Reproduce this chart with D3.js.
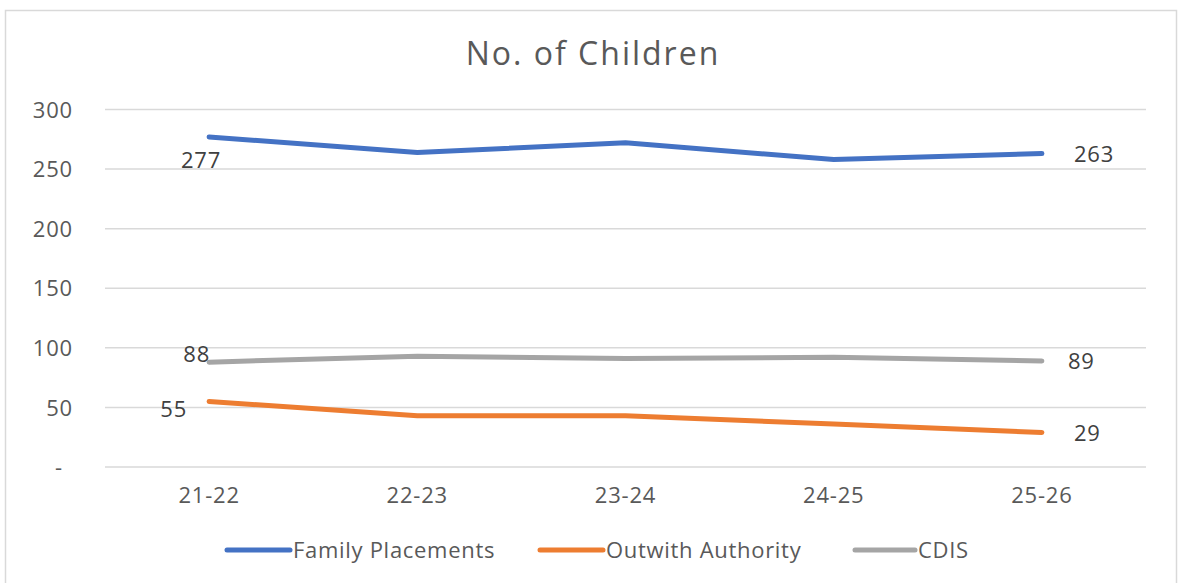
<!DOCTYPE html>
<html>
<head>
<meta charset="utf-8">
<script src="https://cdn.jsdelivr.net/npm/d3@7"></script>
<style>
  html, body { margin: 0; padding: 0; background: #fff; }
  svg { display: block; font-family: "Open Sans", "Noto Sans", sans-serif; }
</style>
</head>
<body>
<svg id="chart" width="1179" height="583"></svg>
<script>
// Chart data
const categories = ["21-22", "22-23", "23-24", "24-25", "25-26"];
const seriesNames = ["Family Placements", "Outwith Authority", "CDIS"];
const familyPlacements = [277, 264, 272, 258, 263];
const outwithAuthority = [55, 43, 43, 36, 29];
const cdis = [88, 93, 91, 92, 89];
const yTicks = [0, 50, 100, 150, 200, 250, 300];

const colors = ["#4472C4", "#ED7D31", "#A5A5A5"];
const seriesValues = [familyPlacements, outwithAuthority, cdis];

// Data labels are shown on the first and last points of each series
// dx/dy: label offset from the point; anchor: text-anchor
const labelPlacement = [
  [{ i: 0, dx: 12, dy: 23, anchor: "end" }, { i: 4, dx: 32, dy: 1, anchor: "start" }],
  [{ i: 0, dx: -22, dy: 8, anchor: "end" }, { i: 4, dx: 32, dy: 1, anchor: "start" }],
  [{ i: 0, dx: 1, dy: -8, anchor: "end" }, { i: 4, dx: 26, dy: 0, anchor: "start" }]
];

const svg = d3.select("#chart");
const W = 1179, H = 583;
const margin = { left: 105, right: 33, top: 109.5, bottom: 116 };
const plotW = W - margin.left - margin.right;
const plotH = H - margin.top - margin.bottom;
const textColor = "#595959";
const baseSize = 22;
const baseSpacing = 0.8;

// Chart frame
svg.append("rect")
  .attr("x", 5.5).attr("y", 10.5)
  .attr("width", 1171).attr("height", 590)
  .attr("fill", "#fff").attr("stroke", "#D9D9D9").attr("stroke-width", 1.5);

// Title
svg.append("text")
  .attr("x", 593).attr("y", 65)
  .attr("text-anchor", "middle")
  .attr("fill", textColor)
  .attr("font-size", 32)
  .attr("letter-spacing", 2)
  .text("No. of Children");

const g = svg.append("g").attr("transform", `translate(${margin.left},${margin.top})`);

const x = d3.scaleBand().domain(categories).range([0, plotW]).paddingInner(0).paddingOuter(0);
const y = d3.scaleLinear().domain([0, 300]).range([plotH, 0]);
const cx = d => x(d) + x.bandwidth() / 2;

// Gridlines
g.append("g")
  .selectAll("line")
  .data(yTicks)
  .join("line")
  .attr("x1", 0).attr("x2", plotW)
  .attr("y1", d => y(d)).attr("y2", d => y(d))
  .attr("stroke", "#D9D9D9").attr("stroke-width", 1.5);

// Y axis
const yAxis = d3.axisLeft(y)
  .tickValues(yTicks)
  .tickSize(0)
  .tickPadding(32)
  .tickFormat(d => d === 0 ? "-" : d3.format(",")(d));
const yg = g.append("g").call(yAxis);
yg.select(".domain").remove();
yg.selectAll("text")
  .attr("fill", textColor)
  .attr("font-size", baseSize)
  .attr("letter-spacing", baseSpacing)
  .attr("font-family", "'Open Sans', sans-serif")
  .attr("dy", "0.35em");
yg.selectAll("text").filter(d => d === 0).attr("dx", -10);

// X axis
const xAxis = d3.axisBottom(x).tickSize(0).tickPadding(20);
const xg = g.append("g").attr("transform", `translate(0,${plotH})`).call(xAxis);
xg.select(".domain").remove();
xg.selectAll("text")
  .attr("fill", textColor)
  .attr("font-size", baseSize)
  .attr("letter-spacing", baseSpacing)
  .attr("font-family", "'Open Sans', sans-serif");

// Lines
const line = d3.line()
  .x((d, i) => cx(categories[i]))
  .y(d => y(d));

seriesValues.forEach((vals, s) => {
  g.append("path")
    .datum(vals)
    .attr("d", line)
    .attr("fill", "none")
    .attr("stroke", colors[s])
    .attr("stroke-width", 5)
    .attr("stroke-linecap", "round")
    .attr("stroke-linejoin", "round");
});

// Data labels
seriesValues.forEach((vals, s) => {
  labelPlacement[s].forEach(p => {
    g.append("text")
      .attr("x", cx(categories[p.i]) + p.dx)
      .attr("y", y(vals[p.i]) + p.dy)
      .attr("dy", "0.35em")
      .attr("text-anchor", p.anchor)
      .attr("fill", "#404040")
      .attr("font-size", baseSize)
      .attr("letter-spacing", baseSpacing)
      .text(vals[p.i]);
  });
});

// Legend
const legendItems = [
  { x: 227, w: 63 },
  { x: 540, w: 63 },
  { x: 855, w: 60 }
];
const lg = svg.append("g").attr("transform", "translate(0,550)");
seriesNames.forEach((name, s) => {
  const it = legendItems[s];
  lg.append("line")
    .attr("x1", it.x).attr("x2", it.x + it.w)
    .attr("y1", 0).attr("y2", 0)
    .attr("stroke", colors[s]).attr("stroke-width", 5)
    .attr("stroke-linecap", "round");
  lg.append("text")
    .attr("x", it.x + it.w + 3)
    .attr("y", 0)
    .attr("dy", "0.35em")
    .attr("fill", textColor)
    .attr("font-size", baseSize)
    .attr("letter-spacing", 0.7)
    .text(name);
});
</script>
</body>
</html>
